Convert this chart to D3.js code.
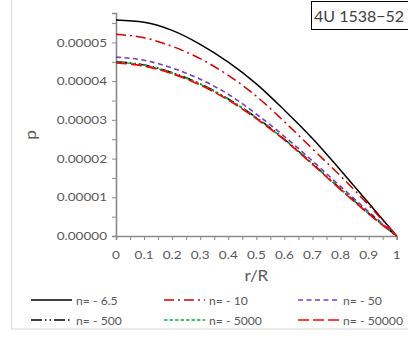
<!DOCTYPE html>
<html>
<head>
<meta charset="utf-8">
<script src="https://cdn.jsdelivr.net/npm/d3@7"></script>
<style>
  html, body { margin: 0; padding: 0; background: #fff; }
  svg { display: block; }
</style>
</head>
<body>
<svg id="chart" width="408" height="338"></svg>
<script>
// Radial coordinate r/R
const radius = [0, 0.1, 0.2, 0.3, 0.4, 0.5, 0.6, 0.7, 0.8, 0.9, 1.0];

// Pressure profiles for each polytropic index n
const p_n6_5   = [5.58e-5, 5.52e-5, 5.31e-5, 4.95e-5, 4.49e-5, 3.93e-5, 3.25e-5, 2.52e-5, 1.70e-5, 0.85e-5, 0];
const p_n10    = [5.21e-5, 5.12e-5, 4.90e-5, 4.58e-5, 4.15e-5, 3.61e-5, 2.95e-5, 2.25e-5, 1.55e-5, 0.80e-5, 0];
const p_n50    = [4.62e-5, 4.54e-5, 4.34e-5, 4.05e-5, 3.66e-5, 3.15e-5, 2.57e-5, 1.94e-5, 1.28e-5, 0.63e-5, 0];
const p_n500   = [4.50e-5, 4.42e-5, 4.22e-5, 3.93e-5, 3.54e-5, 3.06e-5, 2.50e-5, 1.87e-5, 1.22e-5, 0.59e-5, 0];
const p_n5000  = [4.49e-5, 4.41e-5, 4.21e-5, 3.92e-5, 3.53e-5, 3.05e-5, 2.49e-5, 1.86e-5, 1.21e-5, 0.58e-5, 0];
const p_n50000 = [4.47e-5, 4.39e-5, 4.19e-5, 3.90e-5, 3.51e-5, 3.03e-5, 2.48e-5, 1.85e-5, 1.20e-5, 0.57e-5, 0];

const seriesLabels = ["n= - 6.5", "n= - 10", "n= - 50", "n= - 500", "n= - 5000", "n= - 50000"];
const seriesValues = [p_n6_5, p_n10, p_n50, p_n500, p_n5000, p_n50000];

const xTicks = [0, 0.1, 0.2, 0.3, 0.4, 0.5, 0.6, 0.7, 0.8, 0.9, 1];
const yTicks = [0, 0.00001, 0.00002, 0.00003, 0.00004, 0.00005];
const titleText = "4U 1538\u221252";

// Line styles per series
const styles = [
  { color: "#000000", dash: null,               width: 1.5 },
  { color: "#d80000", dash: "10,4,2,4",         width: 1.5 },
  { color: "#7a3cc0", dash: "5,3.5",            width: 1.6 },
  { color: "#000000", dash: "11,3,1.5,3,1.5,3", width: 1.5 },
  { color: "#00b050", dash: "3.5,2",            width: 1.6 },
  { color: "#ff0000", dash: "11,4",             width: 1.6 }
];

const svg = d3.select("#chart");
const FONT = "Lato, 'Open Sans', sans-serif";
const SX = 1.18;   // horizontal stretch applied to labels
const textGrey = "#595959";

// Helper: place a horizontally stretched text at (x, y)
function label(parent, x, y, str, opts = {}) {
  const g = parent.append("g").attr("transform", `translate(${x},${y}) scale(${opts.sx || SX},1)`);
  return g.append("text")
    .attr("x", 0).attr("y", 0)
    .attr("font-family", FONT)
    .attr("font-size", opts.size || 11.5)
    .attr("fill", opts.fill || textGrey)
    .attr("text-anchor", opts.anchor || "start")
    .attr("dominant-baseline", opts.baseline || "auto")
    .text(str);
}

// Outer chart frame
svg.append("rect")
  .attr("x", 11.5).attr("y", -5)
  .attr("width", 420).attr("height", 334)
  .attr("fill", "none").attr("stroke", "#d9d9d9").attr("stroke-width", 1);

const x = d3.scaleLinear().domain([0, 1]).range([116, 396.7]);
const y = d3.scaleLinear().domain([0, 0.0000576]).range([236, 13]);

// Axes
const axisColor = "#8a8a8a";
const yAxis = svg.append("g")
  .attr("transform", `translate(${x(0)},0)`)
  .call(d3.axisLeft(y).tickValues(d3.range(0, 0.0000576, 0.000005)).tickSize(4).tickFormat(""));
yAxis.select(".domain").attr("stroke", axisColor).attr("stroke-width", 1.6);
yAxis.selectAll(".tick line").attr("stroke", axisColor).attr("stroke-width", 1);

const xAxis = svg.append("g")
  .attr("transform", `translate(0,${y(0)})`)
  .call(d3.axisBottom(x).tickValues(d3.range(0, 1.0001, 0.05)).tickSize(4).tickFormat(""));
xAxis.select(".domain").attr("stroke", axisColor).attr("stroke-width", 1.6);
xAxis.selectAll(".tick line").attr("stroke", axisColor).attr("stroke-width", 1);

// Tick labels
const fmtY = d3.format(".5f");
yTicks.forEach(v => label(svg, 107, y(v), fmtY(v), { anchor: "end", baseline: "central" }));
xTicks.forEach(v => label(svg, x(v), 259, String(v), { anchor: "middle" }));

// Axis titles
label(svg, x(0.5), 281, "r/R", { anchor: "middle", size: 14.5 });
svg.append("g").attr("transform", "translate(36,135) rotate(-90) scale(1.15,1)")
  .append("text")
  .attr("font-family", FONT).attr("font-size", 15).attr("fill", textGrey)
  .attr("text-anchor", "middle").text("p");

// Profiles
const line = d3.line()
  .x((d, i) => x(radius[i]))
  .y(d => y(d))
  .curve(d3.curveMonotoneX);

seriesValues.forEach((vals, i) => {
  const s = styles[i];
  svg.append("path")
    .attr("d", line(vals))
    .attr("fill", "none")
    .attr("stroke", s.color)
    .attr("stroke-width", s.width)
    .attr("stroke-dasharray", s.dash);
});

// Legend: 3 columns x 2 rows
const legCols = [31, 164, 298];
const legRows = [300, 320];
seriesLabels.forEach((name, i) => {
  const s = styles[i];
  const lx = legCols[i % 3], ly = legRows[Math.floor(i / 3)];
  svg.append("line")
    .attr("x1", lx).attr("x2", lx + 41)
    .attr("y1", ly).attr("y2", ly)
    .attr("stroke", s.color).attr("stroke-width", s.width)
    .attr("stroke-dasharray", s.dash);
  label(svg, lx + 45, ly + 4.5, name, { sx: 1.06 });
});

// Title box
svg.append("rect")
  .attr("x", 311.5).attr("y", 1.5)
  .attr("width", 110).attr("height", 28)
  .attr("fill", "#fff").attr("stroke", "#000").attr("stroke-width", 1);
label(svg, 314, 22, titleText, { size: 16, fill: "#404040", sx: 1.0 });
</script>
</body>
</html>
